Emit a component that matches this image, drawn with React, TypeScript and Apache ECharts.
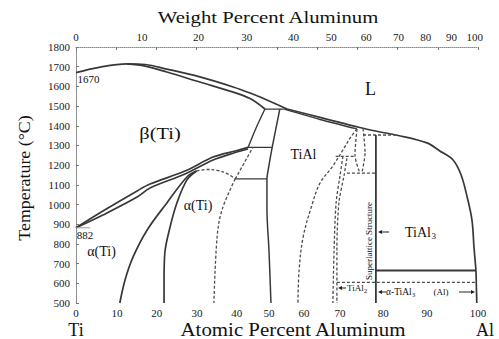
import { useEffect, useRef } from "react";
import * as echarts from "echarts";

const FONT = "Liberation Serif, Times New Roman, Times, serif";

// ---- axis labels ----
const atomicTickLabels = ["0", "10", "20", "30", "40", "50", "60", "70", "80", "90", "100"];
const atomicTickPos = [0, 10.2, 20.1, 30.1, 40, 48, 56.7, 65.7, 76.4, 87.3, 100];
const weightTickLabels = ["0", "10", "20", "30", "40", "50", "60", "70", "80", "90", "100"];
const weightTickPos = [0, 16.4, 30.5, 42.5, 54.1, 63.5, 72.2, 80.2, 87.0, 93.4, 99.2];

// ---- phase boundaries [at.% Al, °C] ----
const liquidusTi = [[0, 1670], [6, 1698], [12.7, 1714], [17.2, 1711], [22.6, 1688], [30.8, 1648], [39.1, 1597], [43.3, 1566], [47.5, 1531], [52.5, 1485]];
const betaSolidus = [[12.7, 1714], [17.2, 1703], [22.6, 1673], [30.8, 1622], [39.1, 1571], [43.3, 1538], [47.0, 1485]];
const peritectic1485 = [[47.0, 1485], [52.5, 1485]];
const liquidusAl = [[52.5, 1485], [61.4, 1439], [70.6, 1391], [75.1, 1371], [79.9, 1352], [87.3, 1313], [90.5, 1272], [93.8, 1226], [95.8, 1150], [97.3, 1038], [98.5, 921], [99.0, 784], [99.5, 665]];
const alSolvus = [[99.5, 665], [99.7, 500]];
const tialSolidus = [[52.0, 1483], [60.7, 1432], [69.9, 1384]];
const betaAlphaHigh = [[47.0, 1485], [44.8, 1389], [42.8, 1290]];
const alphaTiAl = [[50.7, 1485], [48.8, 1290], [47.8, 1175], [47.5, 1130], [47.5, 972], [48.0, 769], [48.5, 500]];
const line1290 = [[42.8, 1290], [48.8, 1290]];
const transusUpper = [[0, 882], [6.7, 967], [15.2, 1069], [18.4, 1104], [27.1, 1170], [34.1, 1241], [39.6, 1272], [42.8, 1290]];
const transusLower = [[0, 882], [6.7, 947], [15.2, 1038], [18.4, 1084], [27.1, 1155], [34.1, 1226], [39.6, 1264], [42.8, 1282]];
const alphaBoundary = [[10.9, 500], [12.2, 617], [14.2, 734], [17.7, 871], [22.6, 1008], [27.6, 1140], [30.0, 1170]];
const ti3AlLeft = [[21.9, 500], [21.9, 617], [22.1, 754], [23.4, 886], [25.1, 1008], [27.6, 1125], [30.0, 1170]];
const ti3AlDome = [[30.0, 1170], [32.5, 1178], [35.0, 1174], [37.5, 1158], [39.6, 1130]];
const ti3AlRight = [[39.6, 1130], [36.3, 972], [35.1, 835], [34.3, 500]];
const dashUp = [[39.6, 1130], [44.0, 1290]];
const eutectoid1130 = [[39.6, 1130], [47.5, 1130]];
const tialRight = [[69.9, 1384], [68.2, 1338], [66.4, 1277], [63.9, 1196], [60.7, 1109], [58.7, 998], [56.5, 835], [55.5, 668], [55.2, 500]];
const narrowLeft = [[69.9, 1384], [69.4, 1252], [70.6, 1160]];
const narrowRight = [[71.4, 1386], [71.9, 1262], [71.1, 1160]];
const dash1245 = [[64.6, 1245], [69.5, 1245]];
const dash1160 = [[67.4, 1160], [74.6, 1160]];
const dash1353 = [[71.4, 1353], [79.9, 1353]];
const tial3Line = [[74.6, 1353], [74.6, 500]];
const tial2Left = [[66.4, 1245], [65.7, 1150], [64.7, 1008], [64.2, 769], [63.9, 500]];
const tial2Right = [[67.4, 1235], [66.7, 1150], [65.4, 1008], [64.9, 769], [64.9, 500]];
const line665 = [[74.6, 665], [99.5, 665]];
const dash605 = [[64.9, 605], [99.5, 605]];
const mark882 = [[0, 882], [3.5, 882]];

const nearest = (arr: number[], v: number) => {
  let best = 0;
  arr.forEach((p, i) => {
    if (Math.abs(p - v) < Math.abs(arr[best] - v)) best = i;
  });
  return best;
};

type LOpts = { dashed?: boolean; smooth?: number; w?: number; color?: string };
const ser = (data: number[][], o: LOpts = {}) => ({
  type: "line",
  data,
  symbol: "none",
  showSymbol: false,
  silent: true,
  smooth: o.smooth ?? 0,
  lineStyle: {
    color: o.color ?? (o.dashed ? "#4d4d4d" : "#383838"),
    width: o.w ?? (o.dashed ? 1.3 : 1.7),
    type: o.dashed ? [3, 2] : "solid",
  },
  z: 3,
});

const txt = (text: string, x: number, y: number, size: number, extra: any = {}) => ({
  type: "text",
  x,
  y,
  silent: true,
  ...extra,
  style: {
    text,
    fontSize: size,
    fontFamily: FONT,
    fill: "#111",
    align: extra.align ?? "center",
    textAlign: extra.align ?? "center",
    verticalAlign: "middle",
    textVerticalAlign: "middle",
  },
});

const arrow = (x1: number, x2: number, y: number) => {
  const dir = x2 > x1 ? 1 : -1;
  return [
    { type: "line", silent: true, shape: { x1, y1: y, x2: x2 - dir * 3, y2: y }, style: { stroke: "#222", lineWidth: 1 } },
    {
      type: "polygon",
      silent: true,
      shape: { points: [[x2, y], [x2 - dir * 4, y - 2], [x2 - dir * 4, y + 2]] },
      style: { fill: "#222" },
    },
  ];
};

const labelStyle = { fontSize: 11, fontFamily: FONT, color: "#1a1a1a" };

export default function App() {
  const ref = useRef<HTMLDivElement>(null);
  useEffect(() => {
    if (!ref.current) return;
    const chart = echarts.init(ref.current, undefined, { renderer: "svg" });
    const axisLineStyle = { color: "#8a8a8a", width: 1, type: "dotted" as const };
    const option: any = {
      animation: false,
      backgroundColor: "#fff",
      textStyle: { fontFamily: FONT },
      grid: { left: 76, top: 47, width: 402, height: 256, containLabel: false, outerBoundsMode: "none" },
      xAxis: [
        {
          type: "value",
          position: "bottom",
          min: 0,
          max: 100,
          interval: 10,
          axisLine: { show: false },
          axisTick: { show: false },
          splitLine: { show: false },
          axisLabel: {
            ...labelStyle,
            customValues: atomicTickPos,
            showMinLabel: true,
            showMaxLabel: true,
            margin: 4,
            formatter: (v: number) => atomicTickLabels[nearest(atomicTickPos, v)],
          },
        },
        {
          type: "value",
          position: "top",
          min: 0,
          max: 100,
          interval: 10,
          axisLine: { show: true, lineStyle: axisLineStyle },
          axisTick: { show: true, inside: true, length: 3, lineStyle: { color: "#777" } },
          splitLine: { show: false },
          axisLabel: {
            ...labelStyle,
            customValues: weightTickPos,
            showMinLabel: true,
            showMaxLabel: true,
            margin: 5,
            formatter: (v: number) => weightTickLabels[nearest(weightTickPos, v)],
          },
        },
      ],
      yAxis: [
        {
          type: "value",
          position: "left",
          min: 500,
          max: 1800,
          interval: 100,
          axisLine: { show: true, lineStyle: axisLineStyle },
          axisTick: { show: true, inside: true, length: 3, lineStyle: { color: "#777" } },
          splitLine: { show: false },
          axisLabel: { ...labelStyle, margin: 6, formatter: (v: number) => String(v) },
        },
        {
          type: "value",
          position: "right",
          min: 500,
          max: 1800,
          interval: 100,
          axisLine: { show: true, lineStyle: axisLineStyle },
          axisTick: { show: false },
          axisLabel: { show: false },
          splitLine: { show: false },
        },
      ],
      series: [
        ser(liquidusTi, { smooth: 0.35 }),
        ser(betaSolidus, { smooth: 0.35 }),
        ser(peritectic1485, { w: 1.2 }),
        ser(liquidusAl, { smooth: 0.35 }),
        ser(alSolvus),
        ser(tialSolidus, { smooth: 0.3, w: 1.4 }),
        ser(betaAlphaHigh, { smooth: 0.3, w: 1.4 }),
        ser(alphaTiAl, { smooth: 0.3, w: 1.5 }),
        ser(line1290, { w: 1.3 }),
        ser(transusUpper, { smooth: 0.35 }),
        ser(transusLower, { smooth: 0.35 }),
        ser(alphaBoundary, { smooth: 0.35 }),
        ser(ti3AlLeft, { smooth: 0.35 }),
        ser(ti3AlDome, { dashed: true, smooth: 0.4 }),
        ser(ti3AlRight, { dashed: true, smooth: 0.35 }),
        ser(dashUp, { dashed: true }),
        ser(eutectoid1130, { w: 1.3 }),
        ser(tialRight, { dashed: true, smooth: 0.35 }),
        ser(narrowLeft, { dashed: true, smooth: 0.3 }),
        ser(narrowRight, { dashed: true, smooth: 0.3 }),
        ser(dash1245, { dashed: true }),
        ser(dash1160, { dashed: true }),
        ser(dash1353, { dashed: true }),
        ser(tial3Line, { w: 1.8 }),
        ser(tial2Left, { dashed: true, smooth: 0.3 }),
        ser(tial2Right, { dashed: true, smooth: 0.3 }),
        ser(line665, { w: 1.8 }),
        ser(dash605, { dashed: true }),
        ser(mark882, { w: 1, color: "#999" }),
      ],
      graphic: [
        txt("Weight Percent Aluminum", 268, 17, 17, { scaleX: 1.22 }),
        txt("Atomic Percent Aluminum", 293, 330, 18, { scaleX: 1.16 }),
        txt("Ti", 76, 330, 18),
        txt("Al", 485, 330, 18),
        txt("Temperature (°C)", 24, 178, 17, { rotation: Math.PI / 2, scaleX: 1.05 }),
        txt("β(Ti)", 160, 133, 17, { scaleX: 1.2 }),
        txt("L", 370.5, 89, 18),
        txt("TiAl", 303.5, 154, 14),
        txt("α(Ti)", 198, 205, 14),
        txt("α(Ti)", 101.5, 251, 14),
        txt("1670", 88.5, 78.5, 11),
        txt("882", 85, 235, 11),
        txt("TiAl", 405, 232, 14, { align: "left" }),
        txt("3", 431.5, 236, 9, { align: "left" }),
        ...arrow(389, 378, 232),
        txt("Superlattice Structure", 369, 241, 9, { rotation: Math.PI / 2 }),
        txt("TiAl", 347, 288, 9, { align: "left" }),
        txt("2", 364, 290.5, 6.5, { align: "left" }),
        ...arrow(346, 338, 288),
        txt("α-TiAl", 386, 292, 9.5, { align: "left" }),
        txt("3", 412, 294.5, 6.5, { align: "left" }),
        ...arrow(386, 378, 292),
        txt("(Al)", 441, 292, 9),
        ...arrow(459, 475, 292),
      ],
    };
    chart.setOption(option);
    return () => chart.dispose();
  }, []);
  return (
    <div
      ref={ref}
      style={{ position: "fixed", left: 0, top: 0, width: 499, height: 339, background: "#fff" }}
    />
  );
}
